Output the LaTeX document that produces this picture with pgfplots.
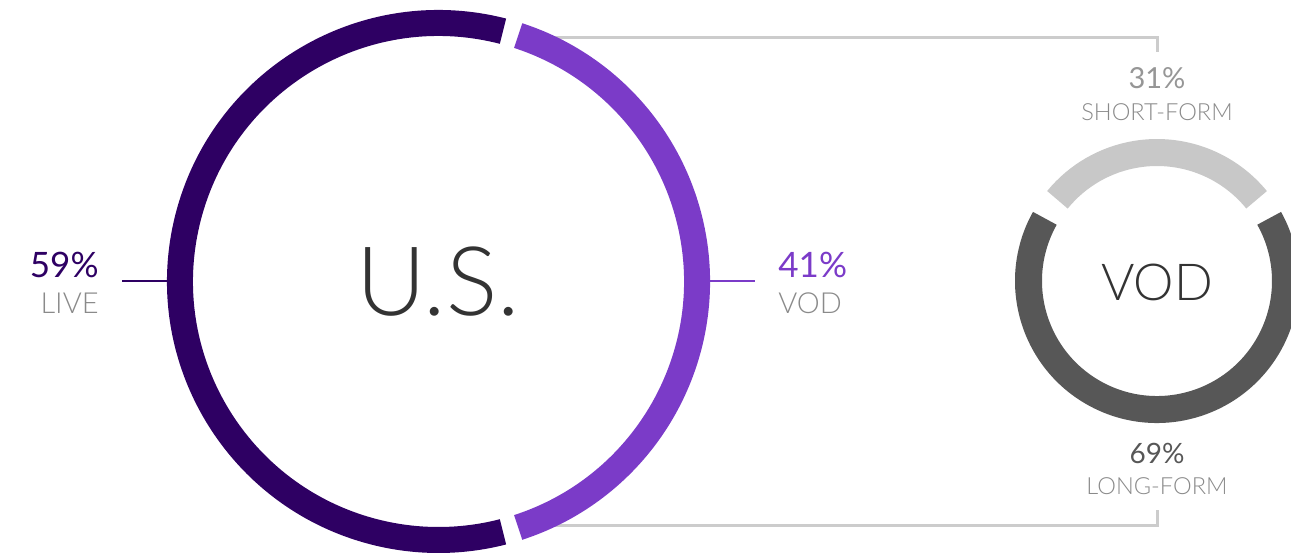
\documentclass[border=0pt]{standalone}
\usepackage{fontspec}
\setmainfont{Lato}
\newfontfamily\lightfont{Lato}[UprightFont={* Light}]
\usepackage{pgfplots}
\usepackage{pgfplotstable}
\pgfplotsset{compat=1.18}
\definecolor{livec}{HTML}{2E0063}
\definecolor{vodc}{HTML}{7B3BC8}
\definecolor{shortc}{HTML}{C8C8C8}
\definecolor{longc}{HTML}{575757}
\definecolor{labc}{HTML}{8A8A8A}
\definecolor{linec}{HTML}{CCCCCC}
\definecolor{titc}{HTML}{333333}

\pgfplotstableread{
segment share
LIVE 59
VOD 41
}\ustable
\pgfplotstableread{
segment share
SHORT 31
LONG 69
}\vodtable

\begin{document}
\begin{tikzpicture}
\pgfplotstablegetelem{0}{share}\of\ustable \edef\valLive{\pgfplotsretval}
\pgfplotstablegetelem{1}{share}\of\ustable \edef\valVod{\pgfplotsretval}
\pgfplotstablegetelem{0}{share}\of\vodtable \edef\valShort{\pgfplotsretval}
\pgfplotstablegetelem{1}{share}\of\vodtable \edef\valLong{\pgfplotsretval}
\pgfmathsetmacro{\halfvod}{3.6*\valVod/2}
\pgfmathsetmacro{\halfshort}{3.6*\valShort/2}
% big donut angles (gap 1.75 deg each side)
\pgfmathsetmacro{\vodA}{-\halfvod+1.75}
\pgfmathsetmacro{\vodB}{\halfvod-1.75}
\pgfmathsetmacro{\liveA}{\halfvod+1.75}
\pgfmathsetmacro{\liveB}{360-\halfvod-1.75}
% small donut angles (gap 5 deg each side)
\pgfmathsetmacro{\shA}{90-\halfshort+5}
\pgfmathsetmacro{\shB}{90+\halfshort-5}
\pgfmathsetmacro{\loA}{90+\halfshort+5}
\pgfmathsetmacro{\loB}{450-\halfshort-5}
\begin{axis}[x=0.5pt,y=0.5pt,xmin=0,xmax=1291,ymin=0,ymax=553,
  y dir=reverse, hide axis, clip=false, scale only axis]
\path (axis cs:0,0) rectangle (axis cs:1291,553);
% connectors
\draw[overlay, linec, line width=1.5pt] (axis cs:540,37) -| (axis cs:1157,52);
\draw[overlay, linec, line width=1.5pt] (axis cs:540,525) -| (axis cs:1157,510);
% big donut
\draw[overlay, vodc, line width=13pt] (axis cs:438.5,281.5) ++(\vodA:129.25pt) arc[start angle=\vodA, end angle=\vodB, radius=129.25pt];
\draw[overlay, livec, line width=13pt] (axis cs:438.5,281.5) ++(\liveA:129.25pt) arc[start angle=\liveA, end angle=\liveB, radius=129.25pt];
% small donut
\draw[overlay, shortc, line width=13.5pt] (axis cs:1157,281) ++(\shA:64.25pt) arc[start angle=\shA, end angle=\shB, radius=64.25pt];
\draw[overlay, longc, line width=13.5pt] (axis cs:1157,281) ++(\loA:64.25pt) arc[start angle=\loA, end angle=\loB, radius=64.25pt];
% leader ticks
\draw[overlay, livec, line width=1pt] (axis cs:122,281) -- (axis cs:168,281);
\draw[overlay, vodc, line width=1pt] (axis cs:709,281) -- (axis cs:755,281);
% labels
\node[overlay, anchor=base east, inner sep=0, text=livec, font=\fontsize{17.5}{20}\selectfont] at (axis cs:99,277) {\valLive\%};
\node[overlay, anchor=base east, inner sep=0, text=labc, font=\lightfont\fontsize{14.5}{17}\selectfont] at (axis cs:99,313) {LIVE};
\node[overlay, anchor=base west, inner sep=0, text=vodc, font=\fontsize{17.5}{20}\selectfont] at (axis cs:778,277) {\valVod\%};
\node[overlay, anchor=base west, inner sep=0, text=labc, font=\lightfont\fontsize{14.5}{17}\selectfont] at (axis cs:778,313) {VOD};
\node[overlay, anchor=base, inner sep=0, text=titc, font=\lightfont\fontsize{48}{52}\selectfont] at (axis cs:438,315) {U.S.};
\node[overlay, anchor=base, inner sep=0, text=titc, font=\lightfont\fontsize{25.5}{28}\selectfont] at (axis cs:1157,300) {VOD};
\node[overlay, anchor=base, inner sep=0, text=labc!90!white, font=\fontsize{14.5}{17}\selectfont] at (axis cs:1157,88) {\valShort\%};
\node[overlay, anchor=base, inner sep=0, text=labc, font=\lightfont\fontsize{11.8}{14}\selectfont] at (axis cs:1157,120) {SHORT-FORM};
\node[overlay, anchor=base, inner sep=0, text=longc, font=\fontsize{14}{17}\selectfont] at (axis cs:1157,463) {\valLong\%};
\node[overlay, anchor=base, inner sep=0, text=labc, font=\lightfont\fontsize{11.8}{14}\selectfont] at (axis cs:1157,494) {LONG-FORM};
\end{axis}
\end{tikzpicture}
\end{document}
